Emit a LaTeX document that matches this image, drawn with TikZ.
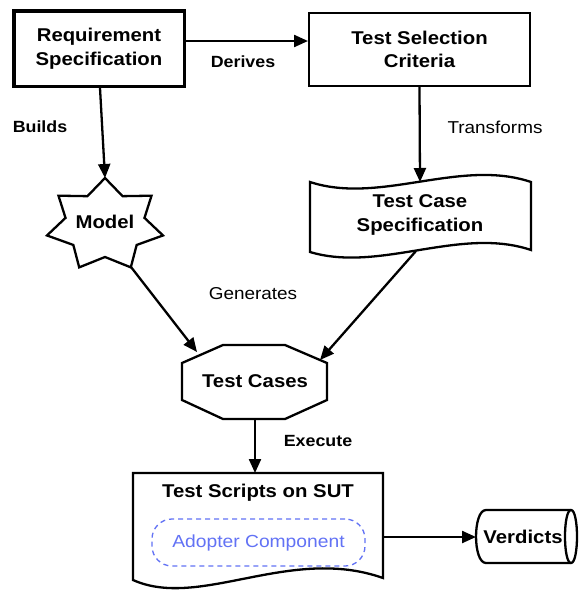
\documentclass[tikz,border=0pt]{standalone}
\usepackage{fontspec}
\setmainfont{Liberation Sans}[FakeStretch=1.1]
\usetikzlibrary{arrows.meta}
\definecolor{adblue}{HTML}{6272F5}
\begin{document}
\begin{tikzpicture}[x=1pt,y=-1pt,
  every node/.style={font=\fontsize{18.5}{23.5}\selectfont\bfseries, align=center, inner sep=0pt},
  shapeline/.style={draw=black, line width=2.3pt, line join=miter},
  conn/.style={draw=black, line width=2.3pt, -{Triangle[length=14pt,width=12pt]}},
  lblb/.style={font=\fontsize{16.2}{18}\selectfont\bfseries},
  lblr/.style={font=\fontsize{17.2}{18}\selectfont},
  boxnode/.style={shapeline, fill=white}
]
\useasboundingbox (0,0) rectangle (580,592);

% Requirement Specification
\node[boxnode, line width=3.5pt, minimum width=170.5pt, minimum height=75.5pt] (req) at (99,48.5) {Requirement\\Specification};
% Test Selection Criteria
\node[boxnode, minimum width=220.7pt, minimum height=72.7pt] (tsc) at (419.5,49.5) {Test Selection\\Criteria};

% Model star (7 points)
\draw[shapeline, fill=white] (105,178)
  \foreach \k in {1,...,13} {
    -- ({105 + (mod(\k,2)==0 ? 59.5 : 40.5)*cos(-90+\k*25.7143)},
        {225 + (mod(\k,2)==0 ? 47 : 32)*sin(-90+\k*25.7143)})
  } -- cycle;
\node (model) at (105,222) {Model};
\coordinate (starTop) at (105,178);
\coordinate (starLR) at (131,267);

% Test Case Specification (tape)
\draw[shapeline, fill=white] (310,182) .. controls (380,205) and (460,158) .. (531,182)
  -- (531,250) .. controls (460,226) and (380,273) .. (310,252) -- cycle;
\node (tcs) at (420,215) {Test Case\\Specification};
\coordinate (tcsTop) at (420,182);
\coordinate (tcsBot) at (416,251);

% Test Cases (octagon)
\draw[shapeline, fill=white] (223,345) -- (285,345) -- (327,363) -- (327,400) -- (285,419)
  -- (223,419) -- (182,400) -- (182,363) -- cycle;
\node (tc) at (255,381) {Test Cases};
\coordinate (tcUL) at (197,352);
\coordinate (tcUR) at (320,360);
\coordinate (tcBot) at (255,419);

% Test Scripts on SUT (document)
\draw[shapeline, fill=white] (133,473) -- (383,473) -- (383,578)
  .. controls (290,545) and (200,610) .. (133,580) -- cycle;
\node (ts) at (258,493) {Test Scripts on SUT};
\coordinate (tsTop) at (255,473);
\coordinate (tsRight) at (383,537);
\node[draw=adblue, line width=1.3pt, dash pattern=on 5pt off 4pt, rounded corners=20pt,
  minimum width=213pt, minimum height=47pt, text=adblue,
  font=\fontsize{17.5}{21}\selectfont] (adopter) at (258.5,542.5) {Adopter Component};

% Verdicts (cylinder)
\draw[shapeline, fill=white] (486,510) -- (571,510) .. controls (579,510) and (579,563) .. (571,563)
  -- (486,563) .. controls (472.7,563) and (472.7,510) .. (486,510) -- cycle;
\draw[shapeline] (571,510) .. controls (563,510) and (563,563) .. (571,563);
\node (verd) at (523,537) {Verdicts};
\coordinate (verdLeft) at (476,537);

% Connectors
\draw[conn] ([yshift=7.5pt]req.east) -- ([yshift=8.5pt]tsc.west);
\draw[conn] ([xshift=1pt]req.south) -- (starTop);
\draw[conn] (tsc.south) -- (tcsTop);
\draw[conn] (starLR) -- (tcUL);
\draw[conn] (tcsBot) -- (tcUR);
\draw[conn] (tcBot) -- (tsTop);
\draw[conn] (tsRight) -- (verdLeft);

% Labels
\node[lblb] (lderives) at (243,62) {Derives};
\node[lblb] (lbuilds) at (40,127) {Builds};
\node[lblr] (ltrans) at (495,127) {Transforms};
\node[lblr] (lgen) at (253,294) {Generates};
\node[lblb] (lexec) at (318,441) {Execute};
\end{tikzpicture}
\end{document}
